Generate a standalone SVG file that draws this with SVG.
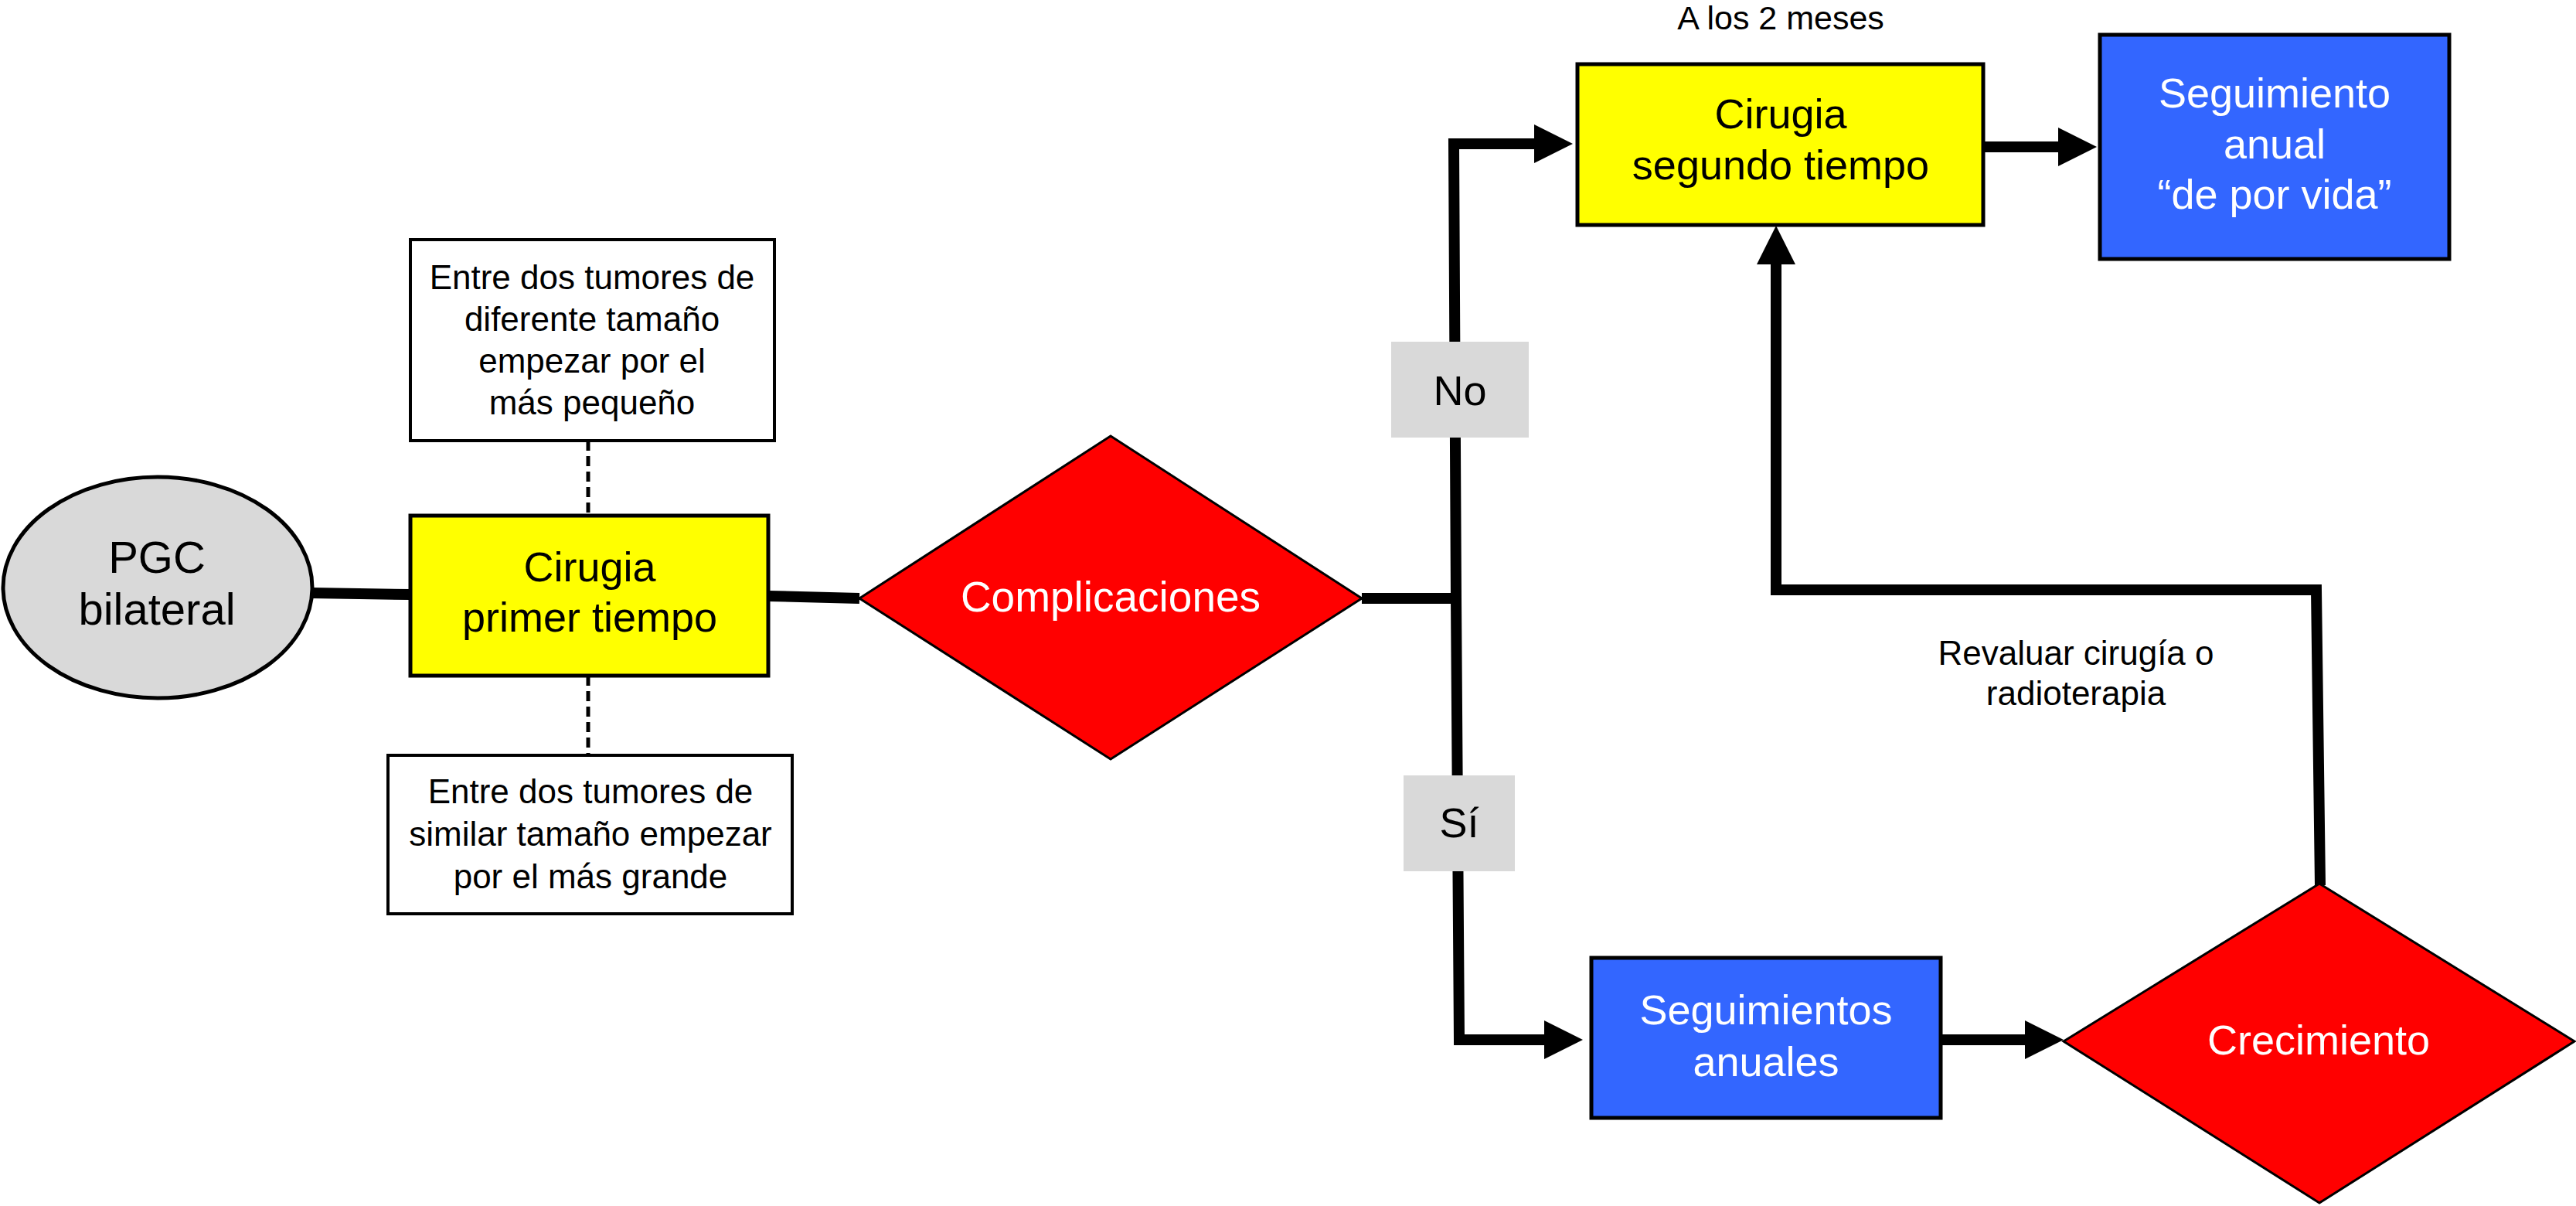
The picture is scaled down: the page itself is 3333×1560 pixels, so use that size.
<svg xmlns="http://www.w3.org/2000/svg" width="3333" height="1560" viewBox="0 0 3333 1560">
<defs>
<style>
text{font-family:"Liberation Sans",Arial,sans-serif;text-anchor:middle}
.big{font-size:54px}
.small{font-size:44px}
.w{fill:#ffffff}
.k{fill:#000000}
.box{stroke:#000;stroke-width:5}
.note{fill:#ffffff;stroke:#000;stroke-width:4}
.dia{fill:#ff0000;stroke:#000;stroke-width:3}
.conn{fill:none;stroke:#000;stroke-width:14;stroke-linejoin:miter;stroke-linecap:butt}
.dash{fill:none;stroke:#000;stroke-width:5;stroke-dasharray:13 7}
.lab{fill:#d9d9d9}
</style>
<marker id="ah" viewBox="0 0 50 50" markerUnits="userSpaceOnUse" markerWidth="50" markerHeight="50" refX="1" refY="25" orient="auto">
<path d="M0,0 L50,25 L0,50 z" fill="#000"/>
</marker>
</defs>
<rect width="3333" height="1560" fill="#ffffff"/>
<g id="connectors">
<path class="conn" d="M404,767 L531,769"/>
<path class="conn" d="M994,771 L1112,774"/>
<path class="conn" d="M1762,774 L1890,774"/>
<path class="conn" d="M1884,774 L1881,186 L1986,186" marker-end="url(#ah)"/>
<path class="conn" d="M1884,774 L1888,1345 L1999,1345" marker-end="url(#ah)"/>
<path class="conn" d="M2566,190 L2664,190" marker-end="url(#ah)"/>
<path class="conn" d="M2511,1345 L2621,1345" marker-end="url(#ah)"/>
<path class="conn" d="M3002,1145 L2997,763 L2298,763 L2298,341" marker-end="url(#ah)"/>
<path class="dash" d="M761,570 L761,667"/>
<path class="dash" d="M761,874 L761,977"/>
</g>
<g id="label-no">
<rect class="lab" x="1800" y="442" width="178" height="124"/>
<text class="k" x="1889" y="524" style="font-size:54px">No</text>
</g>
<g id="label-si">
<rect class="lab" x="1816" y="1003" width="144" height="124"/>
<text class="k" x="1888" y="1083" style="font-size:54px">Sí</text>
</g>
<g id="pgc">
<ellipse cx="204" cy="760" rx="200" ry="143" fill="#d9d9d9" stroke="#000" stroke-width="5"/>
<text class="k" x="203" y="741" style="font-size:58px">PGC</text>
<text class="k" x="203" y="808" style="font-size:58px">bilateral</text>
</g>
<g id="cirugia1">
<rect class="box" x="531" y="667" width="463" height="207" fill="#ffff00"/>
<text class="big k" x="763" y="752">Cirugia</text>
<text class="big k" x="763" y="817">primer tiempo</text>
</g>
<g id="note-top">
<rect class="note" x="531" y="310" width="471" height="260"/>
<text class="small k" x="766" y="374">Entre dos tumores de</text>
<text class="small k" x="766" y="428">diferente tamaño</text>
<text class="small k" x="766" y="482">empezar por el</text>
<text class="small k" x="766" y="536">más pequeño</text>
</g>
<g id="note-bottom">
<rect class="note" x="502" y="977" width="523" height="205"/>
<text class="small k" x="764" y="1039">Entre dos tumores de</text>
<text class="small k" x="764" y="1094">similar tamaño empezar</text>
<text class="small k" x="764" y="1149">por el más grande</text>
</g>
<g id="complicaciones">
<polygon class="dia" points="1112,774 1437,564 1762,774 1437,982"/>
<text class="w" x="1437" y="791" style="font-size:55px">Complicaciones</text>
</g>
<g id="cirugia2">
<text class="k" x="2304" y="38" style="font-size:43px">A los 2 meses</text>
<rect class="box" x="2041" y="83" width="525" height="208" fill="#ffff00"/>
<text class="big k" x="2304" y="166">Cirugia</text>
<text class="big k" x="2304" y="232">segundo tiempo</text>
</g>
<g id="seguimiento-anual">
<rect class="box" x="2717" y="45" width="452" height="290" fill="#3366ff"/>
<text class="big w" x="2943" y="139">Seguimiento</text>
<text class="big w" x="2943" y="205">anual</text>
<text class="big w" x="2943" y="270">“de por vida”</text>
</g>
<g id="seguimientos-anuales">
<rect class="box" x="2059" y="1239" width="452" height="207" fill="#3366ff"/>
<text class="big w" x="2285" y="1325">Seguimientos</text>
<text class="big w" x="2285" y="1392">anuales</text>
</g>
<g id="crecimiento">
<polygon class="dia" points="2670,1347 3001,1143 3331,1347 3001,1556"/>
<text class="big w" x="3000" y="1364">Crecimiento</text>
</g>
<g id="revaluar">
<text class="small k" x="2686" y="860">Revaluar cirugía o</text>
<text class="small k" x="2686" y="912">radioterapia</text>
</g>
</svg>
